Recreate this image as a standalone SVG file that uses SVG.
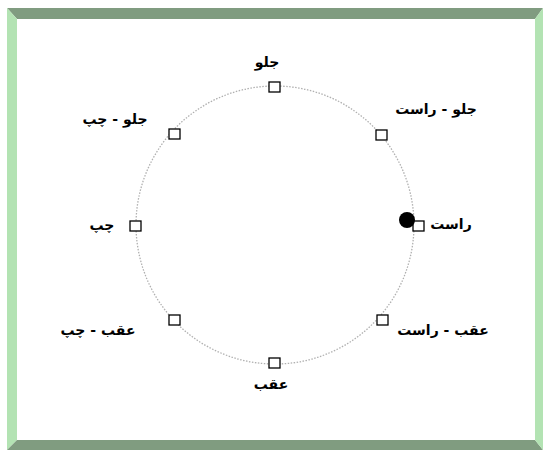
<svg xmlns="http://www.w3.org/2000/svg" width="543" height="455" viewBox="0 0 543 455">
<style>
.dark{fill:#809c80}
.light{fill:#b3e3b3}
.sq{fill:#ffffff;stroke:#000000;stroke-width:1.3}
.lbl{font-family:"DejaVu Sans",sans-serif;font-size:14px;font-weight:bold;fill:#000000;text-anchor:middle}
.ring{fill:none;stroke:#b0b0b0;stroke-width:1.3;stroke-dasharray:1.5 1.5}
</style>
<rect x="0" y="0" width="543" height="455" fill="#ffffff"/>
<g id="frame">
<rect x="17" y="19" width="518" height="421" fill="#ffffff"/>
<polygon class="dark" points="7,8 543,8 535,19 17,19"/>
<polygon class="light" points="7,8 17,19 17,440 7,450"/>
<polygon class="dark" points="7,450 17,440 535,440 543,450"/>
<polygon class="light" points="543,8 535,19 535,440 543,450"/>
</g>
<g id="connectors">
<circle class="ring" cx="275" cy="225" r="139"/>
</g>
<g id="front"><rect class="sq" x="269" y="82" width="11" height="10"/><text class="lbl" x="267" y="67">جلو</text></g>
<g id="front-right"><rect class="sq" x="376" y="130" width="11" height="10"/><text class="lbl" x="436" y="114">جلو - راست</text></g>
<g id="front-left"><rect class="sq" x="169" y="129" width="11" height="10"/><text class="lbl" x="115" y="124">جلو - چپ</text></g>
<g id="right"><rect class="sq" x="413" y="221" width="11" height="10"/><circle cx="407" cy="220" r="8" fill="#000000"/><text class="lbl" x="451" y="229">راست</text></g>
<g id="left"><rect class="sq" x="130" y="221" width="11" height="10"/><text class="lbl" x="102" y="230">چپ</text></g>
<g id="back-left"><rect class="sq" x="169" y="315" width="11" height="10"/><text class="lbl" x="98" y="335">عقب - چپ</text></g>
<g id="back-right"><rect class="sq" x="377" y="315" width="11" height="10"/><text class="lbl" x="443" y="335">عقب - راست</text></g>
<g id="back"><rect class="sq" x="269" y="358" width="11" height="10"/><text class="lbl" x="271" y="389">عقب</text></g>
</svg>
